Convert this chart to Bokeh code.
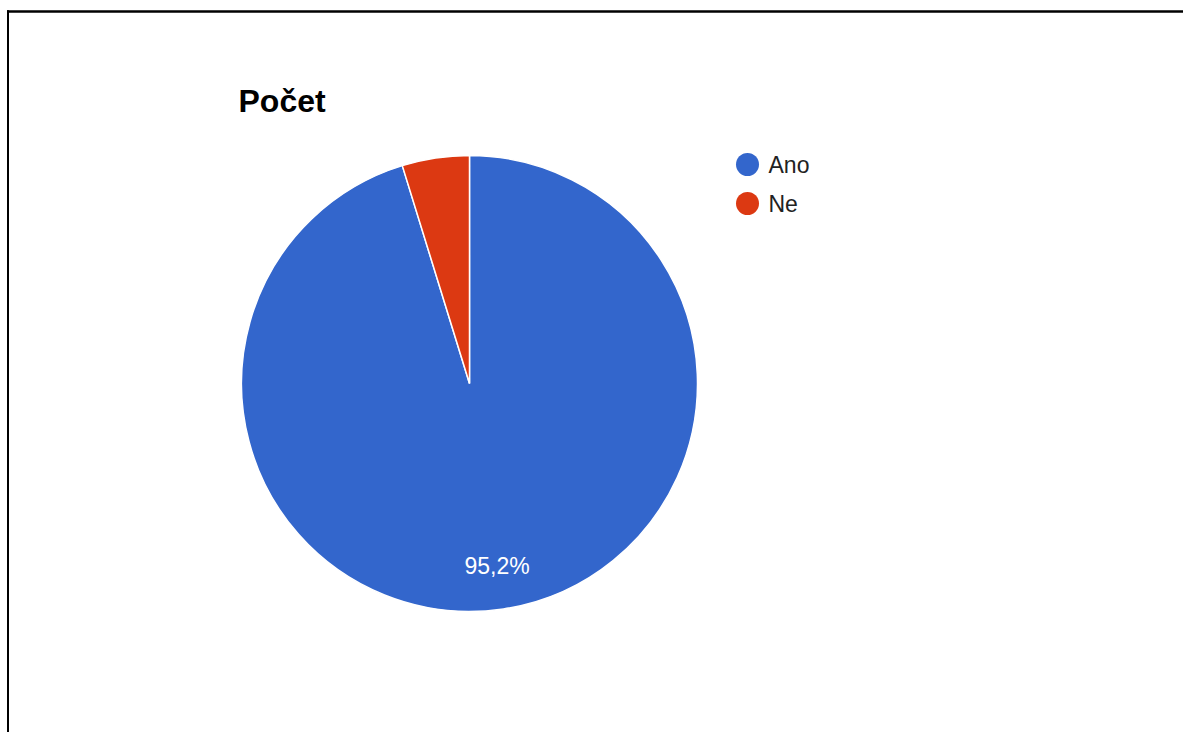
import math
from bokeh.plotting import figure
from bokeh.models import Range1d, ColumnDataSource
from bokeh.core.properties import value
from bokeh.embed import file_html
from bokeh.resources import INLINE

# ---- data ----
title_text = "Počet"
categories = ["Ano", "Ne"]
counts = [20, 1]
colors = ["#3366CC", "#DC3912"]

W, H = 1183, 732
p = figure(width=W, height=H, output_backend="svg", toolbar_location=None,
           x_range=Range1d(0, W), y_range=Range1d(0, H), min_border=0)
p.axis.visible = False
p.grid.visible = False
p.outline_line_color = None
p.background_fill_color = "white"
p.border_fill_color = "white"

# pie geometry (layout, in pixel-like data units)
cx, cy, R = 469, 349, 228
total = sum(counts)
fracs = [c / total for c in counts]
starts, ends = [], []
acc = 0.0
for f in fracs:
    starts.append(math.pi / 2 - 2 * math.pi * acc)
    acc += f
    ends.append(math.pi / 2 - 2 * math.pi * acc)

src = ColumnDataSource(dict(start=starts, end=ends, color=colors, cat=categories))
p.wedge(x=cx, y=cy, radius=R, start_angle="start", end_angle="end",
        direction="clock", fill_color="color", line_color="white",
        line_width=1.5, source=src)

# slice labels (only for large slices)
lx, ly, lt = [], [], []
acc = 0.0
for f in fracs:
    mid = acc + f / 2
    acc += f
    if f >= 0.05:
        th = 2 * math.pi * mid
        r = 0.81 * R
        lx.append(cx + r * math.sin(th))
        ly.append(cy + r * math.cos(th))
        lt.append(f"{f*100:.1f}%".replace(".", ","))
p.text(x=lx, y=ly, text=lt, text_color="white", text_align="center",
       text_baseline="middle", text_font=value("Liberation Sans"),
       text_font_size="23px")

# title
p.text(x=[238], y=[632], text=[title_text], text_color="black",
       text_font=value("Liberation Sans"), text_font_style="bold",
       text_font_size="32px", text_baseline="middle")

# legend
leg_x, leg_y0, leg_dy = 747, 568, 39
leg_ys = [leg_y0 - i * leg_dy for i in range(len(categories))]
p.scatter(x=[leg_x] * len(categories), y=leg_ys, size=23, marker="circle",
          fill_color=colors, line_color=None)
p.text(x=[leg_x + 21] * len(categories), y=leg_ys, text=categories,
       text_color="#222222", text_baseline="middle",
       text_font=value("Liberation Sans"), text_font_size="23px")

# frame lines (top and left), meeting at the corner
fx, fy = 7.5, 721
p.segment(x0=[fx, fx - 1], y0=[-5, fy], x1=[fx, W + 5], y1=[fy + 1.2, fy],
          line_color="black", line_width=[2, 2.5])

open("out.html", "w").write(file_html(p, INLINE))
